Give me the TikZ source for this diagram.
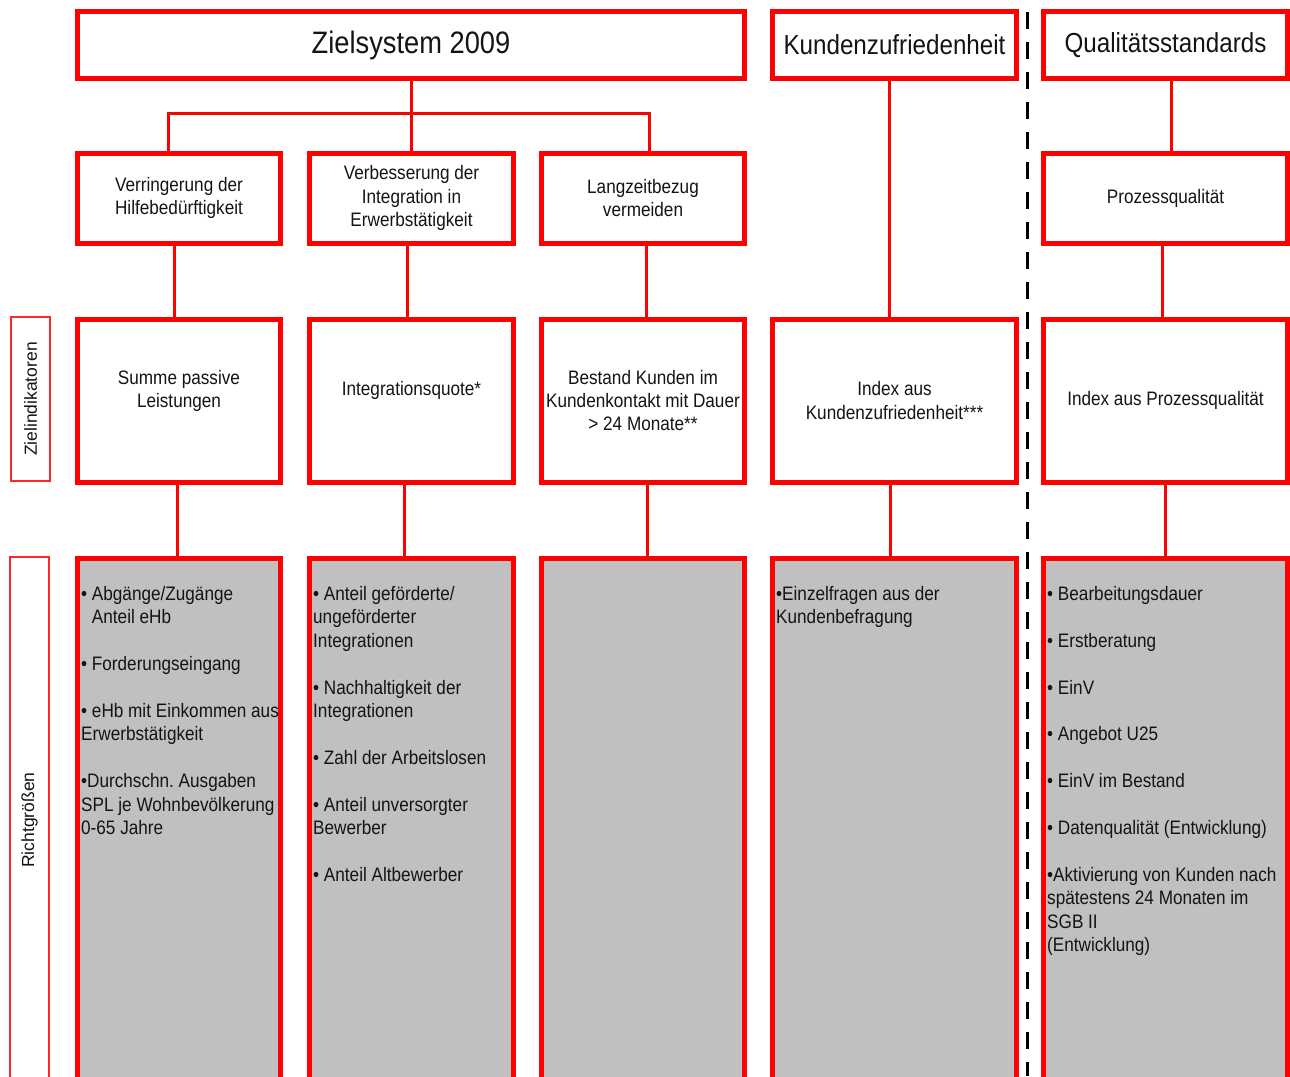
\documentclass[tikz,border=0pt]{standalone}
\usepackage{fontspec}
\setmainfont[FakeStretch=0.88]{Liberation Sans}
\newfontfamily\plainsans{Liberation Sans}
\frenchspacing
\definecolor{zred}{HTML}{FF0000}
\definecolor{zgrey}{HTML}{C0C0C0}
\definecolor{ztext}{HTML}{141414}
\tikzset{
 basebox/.style={anchor=north west, inner sep=0pt, outer sep=0pt, text=ztext},
 headbox/.style={basebox, draw=zred, line width=5pt, fill=white, align=center, font=\fontsize{27.5}{33}\selectfont},
 smallbox/.style={basebox, draw=zred, line width=5pt, fill=white, align=center, font=\fontsize{19.5}{23.4}\selectfont},
 greybox/.style={basebox, fill=zgrey},
 greyborder/.style={draw=zred, line width=5pt},
 greytext/.style={anchor=north west, inner sep=0pt, align=left, text=ztext, font=\fontsize{19.5}{23.4}\selectfont},
 conn/.style={draw=zred, line width=3pt},
 sidebox/.style={basebox, draw=zred!85!white, line width=1.5pt, fill=white},
 sidetext/.style={rotate=90, inner sep=0pt, text=ztext, font=\plainsans\fontsize{17.5}{20}\selectfont},
 divider/.style={draw=black, line width=3pt, dash pattern=on 17pt off 13pt},
}
\begin{document}
\begin{tikzpicture}[x=1pt,y=-1pt]
\useasboundingbox (0,0) rectangle (1290,1076);
\fill[white] (0,0) rectangle (1290,1076);
\clip (0,0) rectangle (1290,1076);

% row 1
\node[headbox, minimum width=667pt, minimum height=67pt, font=\fontsize{31}{36}\selectfont] (ziel) at (77.5,11.5) {Zielsystem 2009};
\node[headbox, minimum width=244pt, minimum height=67pt] (kz) at (772.5,11.5) {Kundenzufriedenheit};
\node[headbox, minimum width=244pt, minimum height=67pt] (qs) at (1043.5,11.5) {Qualitätsstandards};

% row 2
\node[smallbox, minimum width=203pt, minimum height=90pt] (v1) at (77.5,153) {Verringerung der\\Hilfebedürftigkeit};
\node[smallbox, minimum width=204pt, minimum height=90pt] (v2) at (309.5,153) {Verbesserung der\\Integration in\\Erwerbstätigkeit};
\node[smallbox, minimum width=203pt, minimum height=90pt] (v3) at (541.5,153) {Langzeitbezug\\vermeiden};
\node[smallbox, minimum width=244pt, minimum height=90pt] (pq) at (1043.5,153) {Prozessqualität};

% row 3
\node[smallbox, minimum width=203pt, minimum height=163pt] (i1) at (77.5,319) {Summe passive\\Leistungen\\\phantom{I}};
\node[smallbox, minimum width=204pt, minimum height=163pt] (i2) at (309.5,319) {Integrationsquote*\\\phantom{I}};
\node[smallbox, minimum width=203pt, minimum height=163pt] (i3) at (541.5,319) {Bestand Kunden im\\Kundenkontakt mit Dauer\\> 24 Monate**};
\node[smallbox, minimum width=244pt, minimum height=163pt] (i4) at (772.5,319) {Index aus\\Kundenzufriedenheit***};
\node[smallbox, minimum width=244pt, minimum height=163pt] (i5) at (1043.5,319) {Index aus Prozessqualität};

% row 4
\node[greybox, minimum width=203pt, minimum height=540pt] (g1) at (77.5,558) {};
\node[greybox, minimum width=204pt, minimum height=540pt] (g2) at (309.5,558) {};
\node[greybox, minimum width=203pt, minimum height=540pt] (g3) at (541.5,558) {};
\node[greybox, minimum width=244pt, minimum height=540pt] (g4) at (772.5,558) {};
\node[greybox, minimum width=244pt, minimum height=540pt] (g5) at (1043.5,558) {};

\node[greytext] (t1) at (81,584) {\strut• Abgänge/Zugänge\\\phantom{•}\ Anteil eHb\\[23.4pt]• Forderungseingang\\[23.4pt]• eHb mit Einkommen aus\\Erwerbstätigkeit\\[23.4pt]•Durchschn. Ausgaben\\SPL je Wohnbevölkerung\\0-65 Jahre};
\node[greytext] (t2) at (313,584) {\strut• Anteil geförderte/\\ungeförderter\\Integrationen\\[23.4pt]• Nachhaltigkeit der\\Integrationen\\[23.4pt]• Zahl der Arbeitslosen\\[23.4pt]• Anteil unversorgter\\Bewerber\\[23.4pt]• Anteil Altbewerber};
\node[greytext] (t4) at (776,584) {\strut•Einzelfragen aus der\\Kundenbefragung};
\node[greytext] (t5) at (1047,584) {\strut• Bearbeitungsdauer\\[23.4pt]• Erstberatung\\[23.4pt]• EinV\\[23.4pt]• Angebot U25\\[23.4pt]• EinV im Bestand\\[23.4pt]• Datenqualität (Entwicklung)\\[23.4pt]•Aktivierung von Kunden nach\\spätestens 24 Monaten im\\SGB II\\(Entwicklung)};

\foreach \g in {g1,g2,g3,g4,g5}{\draw[greyborder] (\g.north west) rectangle (\g.south east);}

% connectors
\coordinate (j) at (411,113);
\draw[conn] (ziel.south) -- (j);
\draw[conn] ([xshift=-11pt]v1.north) |- (j) -| ([xshift=6pt]v3.north);
\draw[conn] (j) -- (j |- v2.north);

\draw[conn] ([xshift=-5pt]v1.south) -- ([xshift=-5pt]i1.north);
\draw[conn] ([xshift=-4pt]v2.south) -- ([xshift=-4pt]i2.north);
\draw[conn] ([xshift=3pt]v3.south) -- ([xshift=3pt]i3.north);
\draw[conn] ([xshift=-5pt]kz.south) -- ([xshift=-5pt]i4.north);
\draw[conn] ([xshift=5.5pt]qs.south) -- ([xshift=5.5pt]pq.north);
\draw[conn] ([xshift=-3.5pt]pq.south) -- ([xshift=-3.5pt]i5.north);

\draw[conn] ([xshift=-2pt]i1.south) -- ([xshift=-2pt]g1.north);
\draw[conn] ([xshift=-7.5pt]i2.south) -- ([xshift=-7.5pt]g2.north);
\draw[conn] ([xshift=4pt]i3.south) -- ([xshift=4pt]g3.north);
\draw[conn] ([xshift=-4.5pt]i4.south) -- ([xshift=-4.5pt]g4.north);
\draw[conn] ([xshift=-0.5pt]i5.south) -- ([xshift=-0.5pt]g5.north);

% divider
\coordinate (dtop) at (1027,12);
\coordinate (dbot) at (1027,1076);
\draw[divider] (dtop) -- (dbot);

% side labels
\node[sidebox, minimum width=39pt, minimum height=164pt] (zl) at (11,317) {};
\node[sidetext] (zlt) at (zl.center) {Zielindikatoren};
\node[sidebox, minimum width=39pt, minimum height=526pt] (rl) at (10,557) {};
\node[sidetext] (rlt) at (rl.center) {Richtgrößen};
\end{tikzpicture}
\end{document}
